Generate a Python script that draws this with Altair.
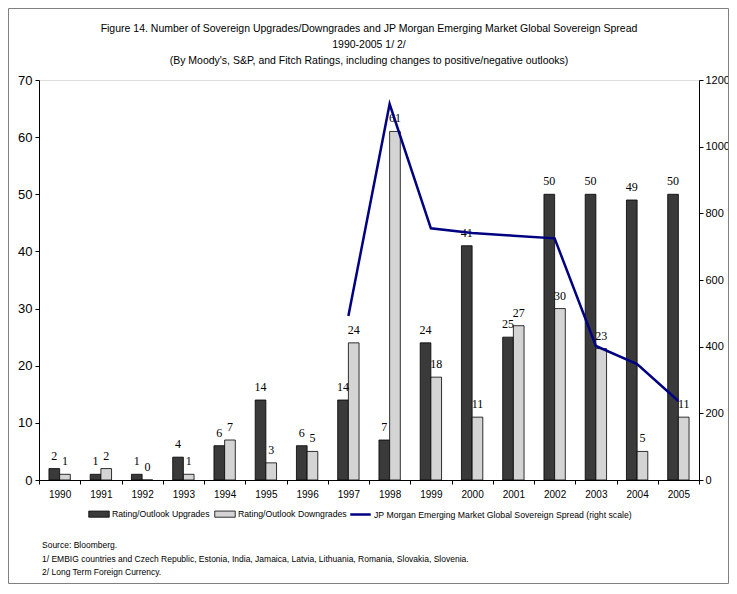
import altair as alt
import pandas as pd

years = [str(y) for y in range(1990, 2006)]
upgrades = [2, 1, 1, 4, 6, 14, 6, 14, 7, 24, 41, 25, 50, 50, 49, 50]
downgrades = [1, 2, 0, 1, 7, 3, 5, 24, 61, 18, 11, 27, 30, 23, 5, 11]
spread_years = ["1997", "1998", "1999", "2000", "2001", "2002", "2003", "2004", "2005"]
spread = [492, 1128, 755, 741, 733, 725, 402, 348, 237]

UP = "Rating/Outlook Upgrades"
DOWN = "Rating/Outlook Downgrades"
LINE = "JP Morgan Emerging Market Global Sovereign Spread (right scale)"

title_lines = [
    "Figure 14. Number of Sovereign Upgrades/Downgrades and JP Morgan Emerging Market Global Sovereign Spread",
    "1990-2005 1/ 2/",
    "(By Moody's, S&P, and Fitch Ratings, including changes to positive/negative outlooks)",
]
notes = [
    "Source: Bloomberg.",
    "1/ EMBIG countries and Czech Republic, Estonia, India, Jamaica, Latvia, Lithuania, Romania, Slovakia, Slovenia.",
    "2/ Long Term Foreign Currency.",
]

bars_df = pd.DataFrame(
    {"year": years * 2,
     "series": [UP] * len(years) + [DOWN] * len(years),
     "value": upgrades + downgrades}
)
line_df = pd.DataFrame({"year": spread_years, "spread": spread, "name": [LINE] * len(spread)})
one = pd.DataFrame({"a": [0]})

FONT = "Liberation Sans"

x_scale = alt.Scale(domain=years, paddingInner=0, paddingOuter=0)
x_enc = alt.X(
    "year:N",
    sort=years,
    scale=x_scale,
    axis=alt.Axis(
        title=None, labelAngle=0, labelFontSize=10, labelFont=FONT, labelColor="#000",
        tickBand="extent", tickSize=4, tickColor="#000", domainColor="#000",
        labelPadding=5, grid=False,
    ),
)
xoff = alt.XOffset(
    "series:N",
    scale=alt.Scale(domain=[UP, DOWN], paddingInner=0, paddingOuter=0.93),
)
y_counts = alt.Y(
    "value:Q",
    scale=alt.Scale(domain=[0, 70], nice=False),
    axis=alt.Axis(
        title=None, values=list(range(0, 71, 10)), labelFontSize=13, labelFont=FONT,
        labelColor="#000", tickSize=4, tickColor="#000", domainColor="#000",
        labelPadding=3, grid=False,
    ),
)

bars = alt.Chart(bars_df).mark_bar(stroke="#000", strokeWidth=0.8).encode(
    x=x_enc,
    xOffset=xoff,
    y=y_counts,
    fill=alt.Fill(
        "series:N",
        scale=alt.Scale(domain=[UP, DOWN], range=["#3a3a3a", "#d4d4d4"]),
        legend=alt.Legend(
            title=None, orient="none", direction="horizontal", legendX=49, legendY=423,
            symbolType="M-1,-0.3L1,-0.3L1,0.3L-1,0.3Z", symbolSize=420,
            symbolStrokeColor="#000", symbolStrokeWidth=0.8,
            labelFontSize=8.7, labelFont=FONT, labelColor="#000", labelOffset=2,
            columnPadding=3, labelLimit=300,
        ),
    ),
)

labels = alt.Chart(bars_df).mark_text(
    font="Liberation Serif", fontSize=12, color="#000", baseline="alphabetic", dy=-9
).encode(
    x=alt.X("year:N", sort=years, scale=x_scale),
    xOffset=xoff,
    y=alt.Y("value:Q", scale=alt.Scale(domain=[0, 70], nice=False)),
    text=alt.Text("value:Q"),
)

counts = alt.layer(bars, labels)

line = alt.Chart(line_df).mark_line(strokeWidth=2.5).encode(
    x=alt.X("year:N", sort=years, scale=x_scale),
    y=alt.Y(
        "spread:Q",
        scale=alt.Scale(domain=[0, 1200], nice=False),
        axis=alt.Axis(
            title=None, orient="right", values=list(range(0, 1201, 200)), format="d",
            labelFontSize=11, labelFont=FONT, labelColor="#000", tickSize=4,
            tickColor="#000", domainColor="#000", labelPadding=2, grid=False,
        ),
    ),
    stroke=alt.Stroke(
        "name:N",
        scale=alt.Scale(domain=[LINE], range=["#000080"]),
        legend=alt.Legend(
            title=None, orient="none", legendX=310, legendY=423,
            symbolType="stroke", symbolSize=420, symbolStrokeWidth=2.5,
            labelFontSize=8.7, labelFont=FONT, labelColor="#000", labelOffset=2,
            labelLimit=400,
        ),
    ),
)

title_marks = [
    alt.Chart(one).mark_text(
        align="center", baseline="middle", fontSize=10.5, font=FONT, color="#000"
    ).encode(x=alt.value(330), y=alt.value(yv), text=alt.value(t))
    for t, yv in zip(title_lines, [-51, -35, -19])
]

footnotes = alt.Chart(one).mark_text(
    align="left", baseline="middle", fontSize=8.5, font=FONT, color="#000", lineHeight=13.5
).encode(x=alt.value(3), y=alt.value(465), text=alt.value(notes))

frame = alt.Chart(one).mark_rect(fill=None, stroke="#808080", strokeWidth=1).encode(
    x=alt.value(-30.5), x2=alt.value(689.5), y=alt.value(-71.5), y2=alt.value(503.5)
)

chart = (
    alt.layer(counts, line, footnotes, frame, *title_marks)
    .resolve_scale(y="independent")
    .properties(
        width=660,
        height=400,
        padding={"left": 31, "top": 72, "right": 30, "bottom": 104},
        autosize=alt.AutoSizeParams(type="none"),
    )
    .configure_view(stroke="#000", strokeWidth=1)
    .configure(background="#ffffff")
)

chart.save("out.html", embed_options={"renderer": "svg", "actions": False})
